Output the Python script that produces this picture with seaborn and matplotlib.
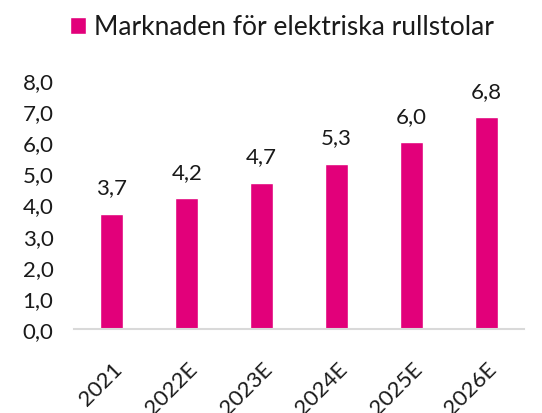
import pandas as pd
import matplotlib.pyplot as plt
import seaborn as sns

# Data
years = ["2021", "2022E", "2023E", "2024E", "2025E", "2026E"]
values = [3.7, 4.2, 4.7, 5.3, 6.0, 6.8]
series_name = "Marknaden för elektriska rullstolar"

df = pd.DataFrame({"Year": years, "Value": values, "Series": series_name})

sns.set_theme(style="white")
plt.rcParams["font.family"] = ["Lato", "DejaVu Sans"]

magenta = "#E2007A"
text_color = "#1a1a1a"

fig, ax = plt.subplots(figsize=(5.42, 4.14), dpi=100)
fig.subplots_adjust(left=0.137, right=0.967, top=0.804, bottom=0.203)

sns.barplot(data=df, x="Year", y="Value", hue="Series", palette=[magenta],
            width=0.31, ax=ax, saturation=1)

# Value labels with comma decimals
ax.bar_label(ax.containers[0], labels=[f"{v:.1f}".replace(".", ",") for v in values],
             padding=12, fontsize=16, color=text_color)

ax.set_ylim(0, 8)
ax.set_yticks(range(0, 9))
ax.set_yticklabels([f"{t:.1f}".replace(".", ",") for t in range(0, 9)],
                   fontsize=16, color=text_color)
ax.set_xticks(range(len(years)))
ax.set_xticklabels(years, rotation=45, ha="right", rotation_mode="anchor",
                   fontsize=16, color=text_color)
ax.tick_params(axis="y", length=0, pad=15)
ax.tick_params(axis="x", length=0, pad=21)
ax.set_xlabel("")
ax.set_ylabel("")

for side in ["top", "right", "left"]:
    ax.spines[side].set_visible(False)
ax.spines["bottom"].set_color("#d9d9d9")
ax.spines["bottom"].set_linewidth(1.5)

handles, labels = ax.get_legend_handles_labels()
ax.legend(handles, labels, loc="upper center", bbox_to_anchor=(0.52, 1.02),
          bbox_transform=fig.transFigure, frameon=False, fontsize=19,
          handlelength=0.6, handleheight=0.6, handletextpad=0.3,
          labelcolor=text_color)

plt.savefig("out.png", dpi=100)
